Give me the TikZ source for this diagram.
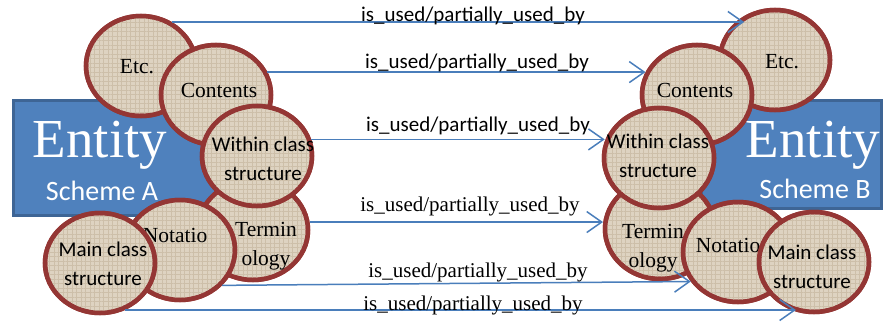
\documentclass[tikz,border=0pt]{standalone}
\usepackage{fontspec}
\setmainfont{Liberation Serif}
\newfontfamily\carl{Carlito}
\usetikzlibrary{shapes.geometric,arrows.meta,patterns.meta}
\definecolor{boxblue}{HTML}{4F81BD}
\definecolor{boxedge}{HTML}{3E6595}
\definecolor{ringred}{HTML}{943634}
\definecolor{linen}{HTML}{DED3C1}
\definecolor{linenline}{HTML}{CDBFA9}
\definecolor{arrblue}{HTML}{4A7EBB}
\begin{document}
\begin{tikzpicture}[x=1pt,y=-1pt,
  bubble/.style={ellipse, draw=ringred, line width=4.5pt, fill=linen,
    minimum width=110pt, minimum height=100pt, inner sep=0pt,
    postaction={pattern={Lines[angle=0,distance=4.5pt,line width=0.7pt]}, pattern color=linenline},
    postaction={pattern={Lines[angle=90,distance=4.5pt,line width=0.7pt]}, pattern color=linenline},
    postaction={draw=ringred, line width=4.5pt}},
  ctext/.style={font=\fontsize{21.5}{29}\selectfont, align=center, inner sep=0pt, anchor=base},
  stext/.style={font=\carl\fontsize{21}{29}\selectfont, align=center, inner sep=0pt, anchor=base},
  entbox/.style={draw=boxedge, line width=3pt, fill=boxblue, inner sep=0pt},
  enttext/.style={font=\fontsize{55}{60}\selectfont, text=white, inner sep=0pt, anchor=base},
  schtext/.style={font=\carl\fontsize{28}{30}\selectfont, text=white, inner sep=0pt, anchor=base},
  arr/.style={draw=arrblue, line width=1.5pt, -{Straight Barb[length=15pt,width=21pt]}},
  slab/.style={font=\carl\fontsize{21}{24}\selectfont, inner sep=0pt, anchor=base},
  rlab/.style={font=\fontsize{21}{24}\selectfont, inner sep=0pt, anchor=base}]
\useasboundingbox (0,0) rectangle (885,324);

% boxes
\node[entbox, minimum width=204pt, minimum height=115pt, anchor=north west] (boxA) at (12,99) {};
\node[entbox, minimum width=180pt, minimum height=108pt, anchor=north east] (boxB) at (883,99) {};

% left circles
\node[bubble] (etcA) at (141,66) {};
\node[ctext] (tEtcA) at (137,73) {Etc.};
\node[bubble] (contA) at (216,95) {};
\node[ctext] (tContA) at (219,97) {Contents};
\node[bubble] (termA) at (253,230) {};
\node[ctext] (tTermA) at (266,265) {Termin\\ology};
\node[bubble] (witA) at (257,156) {};
\node[stext] (tWitA) at (263,180) {Within class\\structure};
\node[bubble] (notA) at (180,250) {};
\node[ctext] (tNotA) at (175,242) {Notatio};
\node[bubble] (mainA) at (100,263) {};
\node[stext] (tMainA) at (103,285) {Main class\\structure};

% right circles
\node[bubble] (etcB) at (775,60) {};
\node[ctext] (tEtcB) at (782,68) {Etc.};
\node[bubble] (contB) at (697,95) {};
\node[ctext] (tContB) at (695,97) {Contents};
\node[bubble] (termB) at (660,229) {};
\node[ctext] (tTermB) at (653,267) {Termin\\ology};
\node[bubble] (witB) at (659,158) {};
\node[stext] (tWitB) at (658,177) {Within class\\structure};
\node[bubble] (notB) at (738,252) {};
\node[ctext] (tNotB) at (728,252) {Notatio};
\node[bubble] (mainB) at (814,262) {};
\node[stext] (tMainB) at (812,288) {Main class\\structure};

% entity texts
\node[enttext] (entA) at (100,157) {Entity};
\node[schtext] (schA) at (102,200) {Scheme A};
\node[enttext] (entB) at (813,157) {Entity};
\node[schtext] (schB) at (815,198) {Scheme B};

% arrows
\draw[arr] (etcA.55) -- (etcA.55 -| etcB.125);
\draw[arr] (contA.24) -- (contA.24 -| contB.156);
\draw[arr] (witA.17) -- (witA.17 -| witB.163);
\draw[arr] (termA.8) -- (termA.8 -| termB.175);
\draw[arr] (notA.-40) -- (notB.-148);
\draw[arr] (mainA.-62) -- (mainA.-62 -| mainB.-110);

% labels
\node[slab] (lab1) at (473,21) {is\_used/partially\_used\_by};
\node[slab] (lab2) at (477,68) {is\_used/partially\_used\_by};
\node[slab] (lab3) at (478,131) {is\_used/partially\_used\_by};
\node[rlab] (lab4) at (470,211) {is\_used/partially\_used\_by};
\node[rlab] (lab5) at (478,277) {is\_used/partially\_used\_by};
\node[rlab] (lab6) at (473,310) {is\_used/partially\_used\_by};
\end{tikzpicture}
\end{document}
